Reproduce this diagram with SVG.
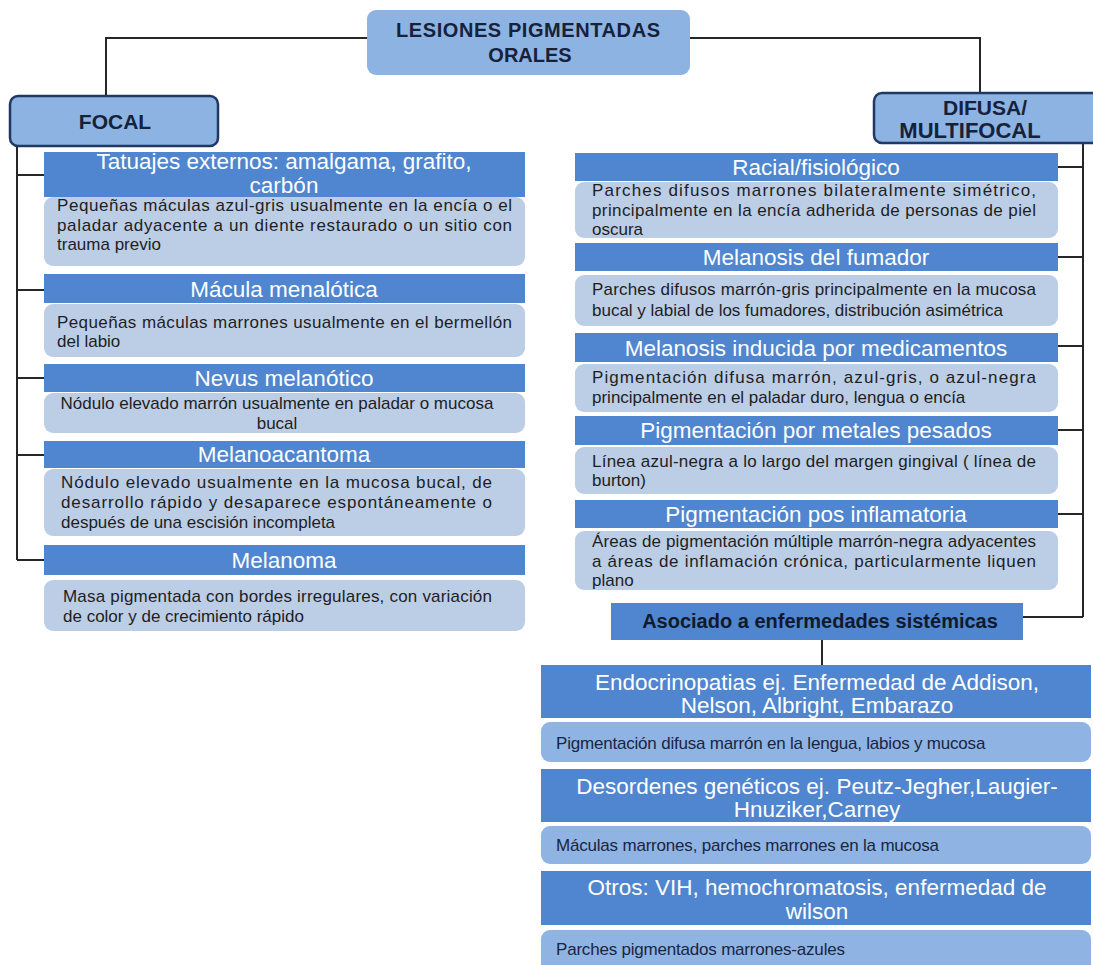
<svg xmlns="http://www.w3.org/2000/svg" width="1093" height="965" viewBox="0 0 1093 965">
  <style>
    .bg { fill: #ffffff; }
    .root { fill: #8db3e2; }
    .cat { fill: #8db3e2; stroke: #1f3864; stroke-width: 2.5; }
    .hdr { fill: #4f86cf; }
    .det { fill: #bccde6; }
    .det2 { fill: #8fb4e3; }
    .link { fill: none; stroke: #262626; stroke-width: 2; }
    .ttl { font-family: "Liberation Sans", Arial, sans-serif; font-weight: bold; fill: #16213a; text-anchor: middle; }
    .h { font-family: "Liberation Sans", Arial, sans-serif; font-size: 22.5px; fill: #ffffff; text-anchor: middle; }
    .d { font-family: "Liberation Sans", Arial, sans-serif; font-size: 17px; fill: #1e1e1e; }
    .dc { font-family: "Liberation Sans", Arial, sans-serif; font-size: 17px; fill: #1e1e1e; text-anchor: middle; }
    .d2 { font-family: "Liberation Sans", Arial, sans-serif; font-size: 17px; fill: #1a2540; letter-spacing: -0.2px; }
    .sys { font-family: "Liberation Sans", Arial, sans-serif; font-size: 20px; font-weight: bold; fill: #101a2c; text-anchor: middle; }
  </style>

  <rect class="bg" x="0" y="0" width="1093" height="965"/>

  <!-- connectors -->
  <g id="connectors">
    <polyline class="link" points="106,96 106,38 980,38 980,93"/>
    <line class="link" x1="17" y1="146" x2="17" y2="560"/>
    <line class="link" x1="17" y1="175" x2="44" y2="175"/>
    <line class="link" x1="17" y1="290" x2="44" y2="290"/>
    <line class="link" x1="17" y1="378" x2="44" y2="378"/>
    <line class="link" x1="17" y1="455" x2="44" y2="455"/>
    <line class="link" x1="17" y1="560" x2="44" y2="560"/>
    <line class="link" x1="1083" y1="143" x2="1083" y2="617"/>
    <line class="link" x1="1058" y1="167" x2="1083" y2="167"/>
    <line class="link" x1="1058" y1="257" x2="1083" y2="257"/>
    <line class="link" x1="1058" y1="346" x2="1083" y2="346"/>
    <line class="link" x1="1058" y1="430" x2="1083" y2="430"/>
    <line class="link" x1="1058" y1="514" x2="1083" y2="514"/>
    <line class="link" x1="1023" y1="617" x2="1083" y2="617"/>
    <line class="link" x1="822" y1="640" x2="822" y2="665"/>
  </g>

  <!-- root -->
  <g id="root">
    <rect class="root" x="367" y="10" width="323" height="65" rx="9"/>
    <text class="ttl" x="528" y="37" font-size="20" textLength="264" lengthAdjust="spacing">LESIONES PIGMENTADAS</text>
    <text class="ttl" x="530" y="62" font-size="20">ORALES</text>
  </g>

  <!-- focal branch -->
  <g id="focal">
    <rect class="cat" x="10" y="96" width="208" height="50" rx="8"/>
    <text class="ttl" x="115" y="129" font-size="21">FOCAL</text>
  </g>

  <g id="difusa">
    <rect class="cat" x="874" y="93" width="230" height="50" rx="8"/>
    <text class="ttl" x="985" y="115" font-size="21">DIFUSA/</text>
    <text class="ttl" x="970" y="138" font-size="22">MULTIFOCAL</text>
  </g>

  <g id="tatuajes">
    <rect class="det" x="44" y="197" width="481" height="69" rx="9"/>
    <rect class="hdr" x="44" y="152" width="481" height="45"/>
    <text class="h" x="284" y="169">Tatuajes externos: amalgama, grafito,</text>
    <text class="h" x="284" y="193">carbón</text>
    <text class="d" x="57" y="211" textLength="455" lengthAdjust="spacing">Pequeñas máculas azul-gris usualmente en la encía o el</text>
    <text class="d" x="57" y="231" textLength="455" lengthAdjust="spacing">paladar adyacente a un diente restaurado o un sitio con</text>
    <text class="d" x="57" y="250">trauma previo</text>
  </g>

  <g id="macula">
    <rect class="det" x="44" y="304" width="481" height="53" rx="9"/>
    <rect class="hdr" x="44" y="274" width="481" height="29"/>
    <text class="h" x="284" y="297">Mácula menalótica</text>
    <text class="d" x="57" y="328" textLength="455" lengthAdjust="spacing">Pequeñas máculas marrones usualmente en el bermellón</text>
    <text class="d" x="57" y="347">del labio</text>
  </g>

  <g id="nevus">
    <rect class="det" x="44" y="393" width="481" height="40" rx="9"/>
    <rect class="hdr" x="44" y="364" width="481" height="28"/>
    <text class="h" x="284" y="386">Nevus melanótico</text>
    <text class="dc" x="277" y="409">Nódulo elevado marrón usualmente en paladar o mucosa</text>
    <text class="dc" x="277" y="429">bucal</text>
  </g>

  <g id="melanoacantoma">
    <rect class="det" x="44" y="469" width="481" height="67" rx="9"/>
    <rect class="hdr" x="44" y="441" width="481" height="27"/>
    <text class="h" x="284" y="462">Melanoacantoma</text>
    <text class="d" x="61" y="488" textLength="431" lengthAdjust="spacing">Nódulo elevado usualmente en la mucosa bucal, de</text>
    <text class="d" x="61" y="508" textLength="431" lengthAdjust="spacing">desarrollo rápido y desaparece espontáneamente o</text>
    <text class="d" x="61" y="528">después de una escisión incompleta</text>
  </g>

  <g id="melanoma">
    <rect class="det" x="44" y="580" width="481" height="51" rx="9"/>
    <rect class="hdr" x="44" y="545" width="481" height="30"/>
    <text class="h" x="284" y="568">Melanoma</text>
    <text class="d" x="63" y="602" textLength="429" lengthAdjust="spacing">Masa pigmentada con bordes irregulares, con variación</text>
    <text class="d" x="63" y="622">de color y de crecimiento rápido</text>
  </g>

  <!-- diffuse / multifocal branch -->
  <g id="racial">
    <rect class="det" x="575" y="182" width="483" height="56" rx="9"/>
    <rect class="hdr" x="575" y="153" width="483" height="28"/>
    <text class="h" x="816" y="175">Racial/fisiológico</text>
    <text class="d" x="592" y="196" textLength="444" lengthAdjust="spacing">Parches difusos marrones bilateralmente simétrico,</text>
    <text class="d" x="592" y="216" textLength="444" lengthAdjust="spacing">principalmente en la encía adherida de personas de piel</text>
    <text class="d" x="592" y="235">oscura</text>
  </g>

  <g id="fumador">
    <rect class="det" x="575" y="275" width="483" height="51" rx="9"/>
    <rect class="hdr" x="575" y="243" width="483" height="28"/>
    <text class="h" x="816" y="265">Melanosis del fumador</text>
    <text class="d" x="592" y="295" textLength="444" lengthAdjust="spacing">Parches difusos marrón-gris principalmente en la mucosa</text>
    <text class="d" x="592" y="316">bucal y labial de los fumadores, distribución asimétrica</text>
  </g>

  <g id="medicamentos">
    <rect class="det" x="575" y="364" width="483" height="48" rx="9"/>
    <rect class="hdr" x="575" y="333" width="483" height="29"/>
    <text class="h" x="816" y="356">Melanosis inducida por medicamentos</text>
    <text class="d" x="592" y="383" textLength="444" lengthAdjust="spacing">Pigmentación difusa marrón, azul-gris, o azul-negra</text>
    <text class="d" x="592" y="403">principalmente en el paladar duro, lengua o encía</text>
  </g>

  <g id="metales">
    <rect class="det" x="575" y="447" width="483" height="47" rx="9"/>
    <rect class="hdr" x="575" y="416" width="483" height="29"/>
    <text class="h" x="816" y="438">Pigmentación por metales pesados</text>
    <text class="d" x="592" y="467" textLength="444" lengthAdjust="spacing">Línea azul-negra a lo largo del margen gingival ( línea de</text>
    <text class="d" x="592" y="486">burton)</text>
  </g>

  <g id="posinflamatoria">
    <rect class="det" x="575" y="531" width="483" height="59" rx="9"/>
    <rect class="hdr" x="575" y="500" width="483" height="28"/>
    <text class="h" x="816" y="522">Pigmentación pos inflamatoria</text>
    <text class="d" x="592" y="547" textLength="444" lengthAdjust="spacing">Áreas de pigmentación múltiple marrón-negra adyacentes</text>
    <text class="d" x="592" y="567" textLength="444" lengthAdjust="spacing">a áreas de inflamación crónica, particularmente liquen</text>
    <text class="d" x="592" y="586">plano</text>
  </g>

  <g id="sistemicas">
    <rect class="hdr" x="611" y="603" width="412" height="37"/>
    <text class="sys" x="820" y="628">Asociado a enfermedades sistémicas</text>
  </g>

  <g id="endocrinopatias">
    <rect class="hdr" x="541" y="665" width="550" height="53"/>
    <text class="h" x="817" y="690">Endocrinopatias ej. Enfermedad de Addison,</text>
    <text class="h" x="817" y="713">Nelson, Albright, Embarazo</text>
    <rect class="det2" x="541" y="722" width="550" height="40" rx="9"/>
    <text class="d2" x="556" y="749">Pigmentación difusa marrón en la lengua, labios y mucosa</text>
  </g>

  <g id="geneticos">
    <rect class="hdr" x="541" y="769" width="550" height="53"/>
    <text class="h" x="817" y="794">Desordenes genéticos ej. Peutz-Jegher,Laugier-</text>
    <text class="h" x="817" y="817">Hnuziker,Carney</text>
    <rect class="det2" x="541" y="826" width="550" height="38" rx="9"/>
    <text class="d2" x="556" y="851">Máculas marrones, parches marrones en la mucosa</text>
  </g>

  <g id="otros">
    <rect class="hdr" x="541" y="871" width="550" height="54"/>
    <text class="h" x="817" y="895">Otros: VIH, hemochromatosis, enfermedad de</text>
    <text class="h" x="817" y="919">wilson</text>
    <rect class="det2" x="541" y="930" width="550" height="45" rx="9"/>
    <text class="d2" x="556" y="955">Parches pigmentados marrones-azules</text>
  </g>
</svg>
